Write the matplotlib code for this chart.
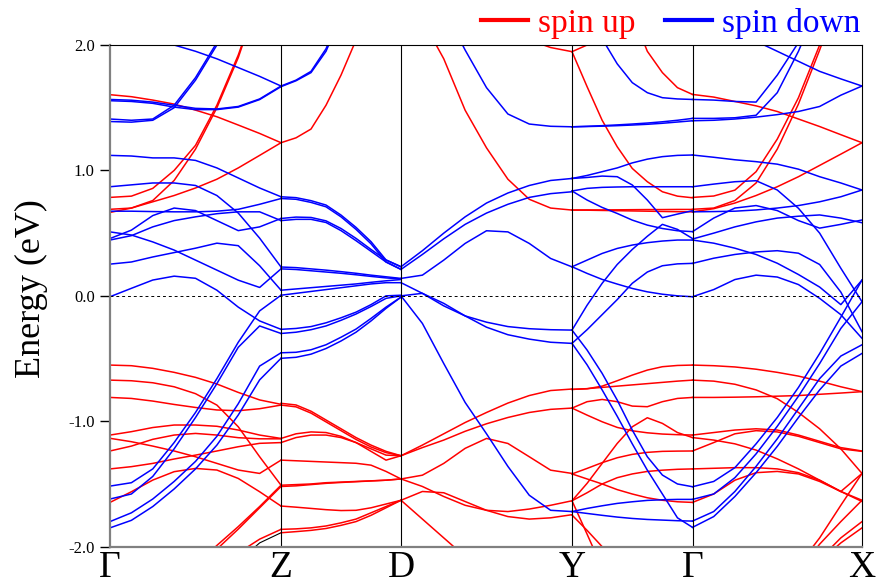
import numpy as np
import matplotlib
matplotlib.use('Agg')
import matplotlib.pyplot as plt
from matplotlib.lines import Line2D

plt.rcParams['font.family'] = ['Liberation Serif', 'DejaVu Serif']
plt.rcParams['axes.unicode_minus'] = False

# high-symmetry path
kpath_labels = ['Γ', 'Z', 'D', 'Y', 'Γ', 'X']
kpath_pos = [0.0, 1.71, 2.91, 4.62, 5.825, 7.52]
n_samples = 9  # energies listed at evenly spaced k within each segment

# ---- Gamma -> Z ----
gz_up = [
    [1.604, 1.588, 1.561, 1.529, 1.481, 1.428, 1.362, 1.295, 1.221],
    [0.785, 0.795, 0.857, 1.0, 1.2, 1.52, 1.92, 2.4, 2.9],
    [0.69, 0.70, 0.76, 0.92, 1.17, 1.50, 1.90, 2.4, 2.9],
    [0.665, 0.70, 0.75, 0.80, 0.86, 0.93, 1.02, 1.12, 1.221],
    [-0.552, -0.557, -0.578, -0.61, -0.65, -0.703, -0.77, -0.83, -0.865],
    [-0.672, -0.677, -0.693, -0.725, -0.78, -0.871, -1.044, -1.283, -1.51],
    [-0.81, -0.818, -0.839, -0.866, -0.89, -0.91, -0.916, -0.90, -0.871],
    [-1.11, -1.083, -1.05, -1.03, -1.03, -1.04, -1.07, -1.11, -1.137],
    [-1.136, -1.163, -1.198, -1.237, -1.283, -1.336, -1.389, -1.416, -1.31],
    [-1.237, -1.198, -1.144, -1.11, -1.097, -1.11, -1.131, -1.14, -1.14],
    [-1.38, -1.362, -1.336, -1.301, -1.27, -1.237, -1.203, -1.176, -1.17],
    [-1.647, -1.562, -1.469, -1.402, -1.376, -1.389, -1.456, -1.562, -1.676],
    [-3.0, -2.8, -2.6, -2.35, -2.15, -1.99, -1.84, -1.68, -1.51],
    [-3.0, -2.8, -2.6, -2.37, -2.18, -2.02, -1.86, -1.69, -1.52],
    [-3.0, -2.8, -2.6, -2.45, -2.3, -2.17, -2.05, -1.94, -1.862],
]
gz_dn = [
    [2.15, 2.13, 2.08, 2.0, 1.95, 1.89, 1.82, 1.75, 1.673],
    [1.41, 1.40, 1.41, 1.52, 1.74, 2.02, 2.35, 2.7, 3.0],
    [1.39, 1.385, 1.40, 1.50, 1.72, 2.0, 2.33, 2.7, 3.0],
    [1.566, 1.56, 1.545, 1.52, 1.495, 1.49, 1.51, 1.57, 1.673],
    [1.556, 1.55, 1.535, 1.505, 1.485, 1.485, 1.505, 1.565, 1.668],
    [1.12, 1.115, 1.10, 1.10, 1.08, 1.02, 0.94, 0.86, 0.79],
    [0.87, 0.885, 0.90, 0.90, 0.88, 0.80, 0.66, 0.46, 0.23],
    [0.675, 0.675, 0.672, 0.67, 0.67, 0.675, 0.69, 0.73, 0.776],
    [0.51, 0.485, 0.43, 0.365, 0.285, 0.205, 0.125, 0.067, 0.215],
    [0.457, 0.524, 0.64, 0.70, 0.68, 0.60, 0.52, 0.55, 0.617],
    [0.445, 0.48, 0.55, 0.60, 0.63, 0.655, 0.67, 0.67, 0.60],
    [0.253, 0.27, 0.31, 0.345, 0.38, 0.42, 0.40, 0.24, 0.045],
    [-0.007, 0.06, 0.126, 0.157, 0.14, 0.045, -0.09, -0.2, -0.267],
    [-1.517, -1.49, -1.38, -1.17, -0.93, -0.66, -0.37, -0.12, 0.005],
    [-1.62, -1.58, -1.44, -1.22, -0.97, -0.70, -0.41, -0.24, -0.30],
    [-1.80, -1.73, -1.62, -1.48, -1.32, -1.12, -0.86, -0.56, -0.454],
    [-1.85, -1.79, -1.68, -1.54, -1.38, -1.19, -0.95, -0.67, -0.498],
]
gz_other = [
    [-3.0, -2.8, -2.6, -2.45, -2.35, -2.25, -2.12, -1.97, -1.889],
]

# ---- Z -> D ----
zd_up = [
    [1.221, 1.26, 1.33, 1.52, 1.76, 2.04, 2.4, 2.8, 3.2],
    [-0.857, -0.87, -0.92, -0.99, -1.06, -1.13, -1.19, -1.24, -1.275],
    [-0.871, -0.885, -0.935, -1.005, -1.075, -1.145, -1.205, -1.25, -1.275],
    [-1.137, -1.10, -1.085, -1.09, -1.12, -1.17, -1.24, -1.31, -1.275],
    [-1.17, -1.13, -1.11, -1.11, -1.13, -1.17, -1.22, -1.27, -1.275],
    [-1.31, -1.315, -1.32, -1.325, -1.33, -1.335, -1.35, -1.40, -1.46],
    [-1.51, -1.505, -1.50, -1.49, -1.485, -1.48, -1.475, -1.47, -1.46],
    [-1.52, -1.515, -1.505, -1.495, -1.488, -1.482, -1.476, -1.47, -1.46],
    [-1.676, -1.685, -1.695, -1.705, -1.712, -1.71, -1.69, -1.66, -1.63],
    [-1.862, -1.858, -1.85, -1.835, -1.81, -1.78, -1.73, -1.68, -1.63],
    [-1.889, -1.88, -1.87, -1.855, -1.83, -1.80, -1.75, -1.69, -1.63],
]
zd_dn = [
    [1.673, 1.72, 1.79, 1.97, 2.25, 2.6, 3.0, 3.4, 3.8],
    [1.668, 1.715, 1.78, 1.95, 2.23, 2.58, 3.0, 3.4, 3.8],
    [0.79, 0.783, 0.759, 0.724, 0.644, 0.546, 0.432, 0.286, 0.232],
    [0.776, 0.77, 0.745, 0.71, 0.63, 0.53, 0.415, 0.27, 0.211],
    [0.617, 0.628, 0.625, 0.598, 0.537, 0.458, 0.37, 0.286, 0.232],
    [0.60, 0.61, 0.61, 0.585, 0.52, 0.44, 0.355, 0.27, 0.211],
    [0.23, 0.225, 0.215, 0.205, 0.193, 0.18, 0.165, 0.152, 0.139],
    [0.215, 0.21, 0.20, 0.19, 0.18, 0.168, 0.155, 0.143, 0.135],
    [0.045, 0.055, 0.065, 0.075, 0.085, 0.095, 0.108, 0.12, 0.13],
    [0.005, 0.02, 0.035, 0.05, 0.065, 0.08, 0.095, 0.105, 0.105],
    [-0.267, -0.26, -0.245, -0.215, -0.175, -0.13, -0.07, 0.0, 0.005],
    [-0.30, -0.29, -0.27, -0.24, -0.195, -0.145, -0.085, -0.02, 0.0],
    [-0.454, -0.45, -0.43, -0.39, -0.33, -0.265, -0.18, -0.09, -0.01],
    [-0.498, -0.49, -0.465, -0.42, -0.36, -0.29, -0.20, -0.10, -0.01],
]

# ---- D -> Y ----
dy_up = [
    [2.5, 2.2, 1.89, 1.48, 1.18, 0.93, 0.77, 0.70, 0.684],
    [3.5, 3.2, 2.9, 2.6, 2.35, 2.17, 2.04, 1.98, 1.947],
    [-1.275, -1.19, -1.10, -1.01, -0.93, -0.855, -0.795, -0.755, -0.743],
    [-1.275, -1.21, -1.15, -1.08, -1.02, -0.97, -0.93, -0.905, -0.895],
    [-1.46, -1.43, -1.336, -1.216, -1.137, -1.177, -1.283, -1.39, -1.416],
    [-1.46, -1.52, -1.60, -1.67, -1.71, -1.72, -1.70, -1.67, -1.634],
    [-1.63, -1.56, -1.57, -1.64, -1.71, -1.76, -1.78, -1.77, -1.745],
    [-1.63, -1.78, -1.93, -2.08, -2.2, -2.35, -2.5, -2.65, -2.8],
]
dy_dn = [
    [2.9, 2.6, 2.29, 1.96, 1.66, 1.45, 1.37, 1.352, 1.348],
    [0.232, 0.36, 0.50, 0.63, 0.74, 0.82, 0.88, 0.92, 0.936],
    [0.211, 0.33, 0.455, 0.57, 0.66, 0.73, 0.785, 0.815, 0.83],
    [0.139, 0.165, 0.285, 0.418, 0.519, 0.51, 0.418, 0.298, 0.231],
    [0.105, 0.02, -0.08, -0.16, -0.21, -0.245, -0.262, -0.27, -0.273],
    [0.0, 0.02, -0.06, -0.16, -0.25, -0.31, -0.345, -0.37, -0.379],
    [0.0, -0.22, -0.54, -0.85, -1.10, -1.36, -1.59, -1.71, -1.72],
]

# ---- Y -> Gamma ----
yg_up = [
    [1.947, 1.668, 1.40, 1.189, 1.016, 0.91, 0.83, 0.795, 0.782],
    [3.5, 3.2, 2.9, 2.6, 2.25, 1.95, 1.78, 1.66, 1.606],
    [1.947, 2.0, 2.1, 2.25, 2.4, 2.6, 2.8, 3.0, 3.2],
    [0.684, 0.685, 0.685, 0.686, 0.687, 0.688, 0.688, 0.689, 0.689],
    [0.684, 0.683, 0.681, 0.679, 0.677, 0.675, 0.673, 0.671, 0.67],
    [-0.746, -0.741, -0.72, -0.677, -0.632, -0.592, -0.565, -0.555, -0.552],
    [-0.746, -0.74, -0.73, -0.72, -0.71, -0.70, -0.69, -0.68, -0.672],
    [-0.895, -0.844, -0.826, -0.844, -0.879, -0.884, -0.844, -0.818, -0.81],
    [-0.895, -0.951, -1.004, -1.049, -1.076, -1.092, -1.102, -1.107, -1.11],
    [-1.634, -1.495, -1.336, -1.177, -1.044, -0.972, -1.017, -1.09, -1.13],
    [-1.42, -1.376, -1.33, -1.291, -1.264, -1.248, -1.24, -1.238, -1.237],
    [-1.42, -1.46, -1.50, -1.545, -1.58, -1.61, -1.63, -1.642, -1.647],
    [-1.634, -1.57, -1.50, -1.45, -1.42, -1.40, -1.39, -1.383, -1.38],
    [-1.634, -1.90, -2.17, -2.45, -2.7, -2.9, -3.1, -3.3, -3.5],
    [-1.748, -1.87, -2.0, -2.15, -2.35, -2.55, -2.75, -2.95, -3.15],
]
yg_dn = [
    [1.348, 1.352, 1.357, 1.363, 1.37, 1.378, 1.388, 1.40, 1.415],
    [1.348, 1.35, 1.353, 1.357, 1.362, 1.368, 1.376, 1.386, 1.396],
    [2.6, 2.3, 2.05, 1.85, 1.70, 1.62, 1.58, 1.57, 1.566],
    [0.936, 0.96, 0.99, 1.02, 1.06, 1.09, 1.11, 1.12, 1.123],
    [0.936, 0.944, 0.955, 0.95, 0.884, 0.764, 0.623, 0.652, 0.679],
    [0.836, 0.857, 0.865, 0.868, 0.87, 0.87, 0.87, 0.87, 0.87],
    [0.836, 0.764, 0.705, 0.657, 0.604, 0.564, 0.537, 0.519, 0.512],
    [0.232, 0.285, 0.338, 0.378, 0.405, 0.424, 0.437, 0.445, 0.445],
    [0.232, 0.179, 0.131, 0.094, 0.059, 0.032, 0.013, 0.0, -0.007],
    [-0.273, -0.075, 0.10, 0.25, 0.37, 0.475, 0.57, 0.53, 0.457],
    [-0.379, -0.27, -0.15, -0.03, 0.10, 0.19, 0.24, 0.255, 0.259],
    [-0.273, -0.432, -0.618, -0.831, -1.07, -1.283, -1.429, -1.50, -1.522],
    [-0.379, -0.55, -0.75, -0.96, -1.18, -1.39, -1.58, -1.77, -1.846],
    [-1.72, -1.695, -1.674, -1.655, -1.642, -1.631, -1.626, -1.623, -1.623],
    [-1.72, -1.735, -1.75, -1.764, -1.775, -1.783, -1.788, -1.793, -1.796],
]

# ---- Gamma -> X ----
gx_up = [
    [0.785, 0.796, 0.843, 0.99, 1.25, 1.58, 2.0, 2.45, 2.9],
    [0.69, 0.70, 0.76, 0.90, 1.17, 1.53, 1.96, 2.42, 2.9],
    [0.67, 0.695, 0.74, 0.80, 0.87, 0.95, 1.04, 1.13, 1.221],
    [1.606, 1.585, 1.55, 1.515, 1.47, 1.41, 1.35, 1.285, 1.221],
    [-0.552, -0.557, -0.567, -0.585, -0.61, -0.64, -0.68, -0.725, -0.764],
    [-0.672, -0.68, -0.705, -0.75, -0.82, -0.93, -1.06, -1.22, -1.416],
    [-0.81, -0.81, -0.808, -0.805, -0.80, -0.795, -0.785, -0.775, -0.764],
    [-1.11, -1.09, -1.07, -1.06, -1.07, -1.11, -1.16, -1.21, -1.237],
    [-1.237, -1.17, -1.10, -1.075, -1.085, -1.12, -1.17, -1.22, -1.24],
    [-1.13, -1.15, -1.18, -1.23, -1.30, -1.38, -1.47, -1.56, -1.64],
    [-1.38, -1.375, -1.37, -1.37, -1.38, -1.41, -1.47, -1.56, -1.416],
    [-1.647, -1.58, -1.47, -1.41, -1.40, -1.42, -1.48, -1.56, -1.63],
    [-3.2, -3.0, -2.8, -2.6, -2.4, -2.15, -1.93, -1.67, -1.416],
    [-3.2, -3.0, -2.8, -2.6, -2.4, -2.2, -1.98, -1.80, -1.63],
    [-3.2, -3.0, -2.8, -2.6, -2.45, -2.3, -2.1, -1.93, -1.80],
    [-3.2, -3.0, -2.8, -2.6, -2.45, -2.3, -2.12, -1.97, -1.85],
]
gx_dn = [
    [1.566, 1.561, 1.55, 1.545, 1.76, 2.02, 2.4, 2.8, 3.2],
    [1.415, 1.415, 1.42, 1.44, 1.62, 1.95, 2.35, 2.75, 3.1],
    [1.396, 1.40, 1.41, 1.425, 1.445, 1.47, 1.51, 1.60, 1.673],
    [2.3, 2.22, 2.12, 2.03, 1.95, 1.87, 1.79, 1.73, 1.673],
    [1.123, 1.105, 1.085, 1.07, 1.05, 1.01, 0.95, 0.90, 0.844],
    [0.87, 0.891, 0.91, 0.918, 0.844, 0.698, 0.50, 0.22, -0.047],
    [0.67, 0.672, 0.675, 0.685, 0.70, 0.72, 0.75, 0.79, 0.844],
    [0.512, 0.62, 0.70, 0.72, 0.68, 0.60, 0.54, 0.57, 0.605],
    [0.453, 0.50, 0.55, 0.59, 0.62, 0.635, 0.645, 0.62, 0.583],
    [0.445, 0.42, 0.38, 0.33, 0.26, 0.17, 0.07, -0.07, 0.126],
    [0.259, 0.30, 0.33, 0.35, 0.36, 0.34, 0.25, 0.03, -0.286],
    [-0.007, 0.05, 0.13, 0.165, 0.15, 0.09, -0.02, -0.15, -0.339],
    [-1.522, -1.48, -1.37, -1.18, -0.97, -0.73, -0.46, -0.17, 0.126],
    [-1.623, -1.58, -1.45, -1.26, -1.04, -0.80, -0.54, -0.26, -0.047],
    [-1.796, -1.72, -1.56, -1.36, -1.14, -0.90, -0.66, -0.48, -0.39],
    [-1.846, -1.76, -1.60, -1.41, -1.20, -0.97, -0.75, -0.56, -0.459],
]

segments = [
    (gz_up, gz_dn, gz_other),
    (zd_up, zd_dn, []),
    (dy_up, dy_dn, []),
    (yg_up, yg_dn, []),
    (gx_up, gx_dn, []),
]

fig = plt.figure(figsize=(8.78, 5.87), dpi=100)
ax = fig.add_axes([0.1253, 0.0687, 0.8565, 0.8546])

for i, (up, dn, other) in enumerate(segments):
    k = np.linspace(kpath_pos[i], kpath_pos[i + 1], n_samples)
    for e in up:
        ax.plot(k, e, color='#ff0000', lw=1.1, solid_joinstyle='round')
    for e in dn:
        ax.plot(k, e, color='#0000ff', lw=1.1, solid_joinstyle='round')
    for e in other:
        ax.plot(k, e, color='black', lw=0.8)

# high-symmetry lines and Fermi level
for kp in kpath_pos[1:-1]:
    ax.axvline(kp, color='black', lw=0.8)
ax.axhline(0.0, color='black', lw=0.7, ls=(0, (3, 3)))

ax.set_xlim(kpath_pos[0], kpath_pos[-1])
ax.set_ylim(-2.0, 2.0)
ax.set_xticks(kpath_pos)
ax.set_xticklabels(kpath_labels, fontsize=27)
ax.tick_params(axis='x', length=0, pad=3)
ax.set_yticks([-2.0, -1.0, 0.0, 1.0, 2.0])
ax.set_yticklabels(['%.1f' % v for v in [-2.0, -1.0, 0.0, 1.0, 2.0]], fontsize=12)
ax.tick_params(axis='y', direction='out', length=7, width=1, pad=4)

for side in ['left', 'bottom']:
    ax.spines[side].set_color('#808080')
    ax.spines[side].set_linewidth(1.6)
for side in ['top', 'right']:
    ax.spines[side].set_color('black')
    ax.spines[side].set_linewidth(0.8)

ax.set_ylabel('Energy (eV)', fontsize=26)
ax.yaxis.set_label_coords(-0.083, 0.515)

handles = [Line2D([], [], color='#ff0000', lw=3), Line2D([], [], color='#0000ff', lw=3)]
ax.legend(handles, ['spin up', 'spin down'], loc='lower right', bbox_to_anchor=(0.998, 1.012),
          ncol=2, frameon=False, fontsize=24, labelcolor=['#ff0000', '#0000ff'],
          handlelength=1.4, handletextpad=0.3, columnspacing=0.9, borderaxespad=0.0,
          borderpad=0.0)

fig.savefig('out.png', dpi=100)
